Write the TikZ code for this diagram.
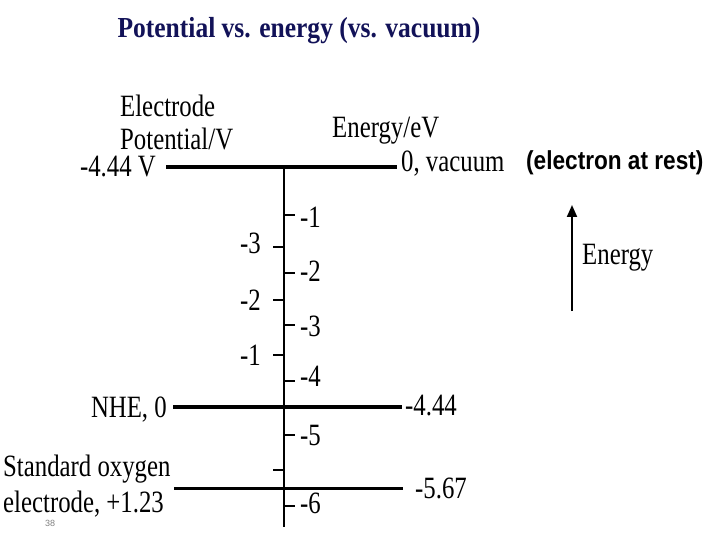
\documentclass[tikz,border=0pt]{standalone}
\usepackage{fontspec}
\setmainfont{Liberation Serif}[FakeStretch=0.8]
\setsansfont{Liberation Sans}[FakeStretch=0.87]
\newfontfamily\titlefont{Liberation Serif}[FakeStretch=0.88]
\newfontfamily\pagefont{Liberation Sans}
\usetikzlibrary{calc}
\usetikzlibrary{arrows.meta}
\definecolor{navy}{RGB}{18,18,88}

\begin{document}
\begin{tikzpicture}[x=1pt,y=-1pt,inner sep=0pt,font=\fontsize{31}{33}\selectfont]
\def\ax{284}
\useasboundingbox (0,0) rectangle (720,540);
\node[anchor=base,font=\titlefont\bfseries\fontsize{29}{30}\selectfont,text=navy] (title) at (299,38) {Potential vs. energy (vs. vacuum)};

% axis
\coordinate (ax0) at (\ax,167);
\coordinate (ax1) at (\ax,527);
\draw[line width=2.5pt] (ax0) -- (ax1);

% levels
\coordinate (vac0) at (166,167); \coordinate (vac1) at (397,167);
\coordinate (nhe0) at (173,407); \coordinate (nhe1) at (402,407);
\coordinate (oxy0) at (174,488); \coordinate (oxy1) at (403,488);
\draw[line width=4pt] (vac0) -- (vac1);
\draw[line width=4pt] (nhe0) -- (nhe1);
\draw[line width=3pt] (oxy0) -- (oxy1);

% energy scale (right)
\foreach \y/\b/\t [count=\i] in {215/227/-1,273/281/-2,325/336/-3,381/386/-4,435/445/-5,506/513/-6}{
  \coordinate (e\i) at (\ax,\y);
  \draw[line width=2.5pt] (e\i) -- ++(11,0);
  \node[anchor=base west] (el\i) at (300,\b) {\t};
}
% potential scale (left)
\foreach \y/\b/\t [count=\i] in {247/254/-3,300/310/-2,355/365/-1}{
  \coordinate (p\i) at (\ax,\y);
  \draw[line width=2.5pt] (p\i) -- ++(-11,0);
  \node[anchor=base east] (pl\i) at (261,\b) {\t};
}
\coordinate (p4) at (\ax,470);
\draw[line width=2pt] (p4) -- ++(-11,0);

\node[anchor=base west,align=left] (elec) at (120,150) {Electrode\\Potential/V};
\node[anchor=base east] (vacV) at ($(vac0)+(-10,10)$) {-4.44 V};
\node[anchor=base west] (evlab) at (332,138) {Energy/eV};
\node[anchor=base west] (vac) at ($(vac1)+(4,5)$) {0, vacuum};
\node[anchor=base west,font=\sffamily\bfseries\fontsize{26}{28}\selectfont] (rest) at (526,170) {(electron at rest)};
\node[anchor=base east] (nhe) at ($(nhe0)+(-6,10)$) {NHE, 0};
\node[anchor=base west] (nheE) at ($(nhe1)+(3,8)$) {-4.44};
\node[anchor=base west,align=left] (oxy) at (3,512) {Standard oxygen\\[3pt]electrode, +1.23};
\node[anchor=base west] (oxyE) at ($(oxy1)+(12,10)$) {-5.67};

\coordinate (en0) at (572,311); \coordinate (en1) at (572,205);
\draw[line width=2pt,-{Triangle[length=12pt,width=10pt]}] (en0) -- (en1);
\node[anchor=base west] (en) at (582,264) {Energy};

\node[anchor=base west,font=\pagefont\fontsize{9}{10}\selectfont,text=gray] (pg) at (45,526) {38};
\end{tikzpicture}
\end{document}
